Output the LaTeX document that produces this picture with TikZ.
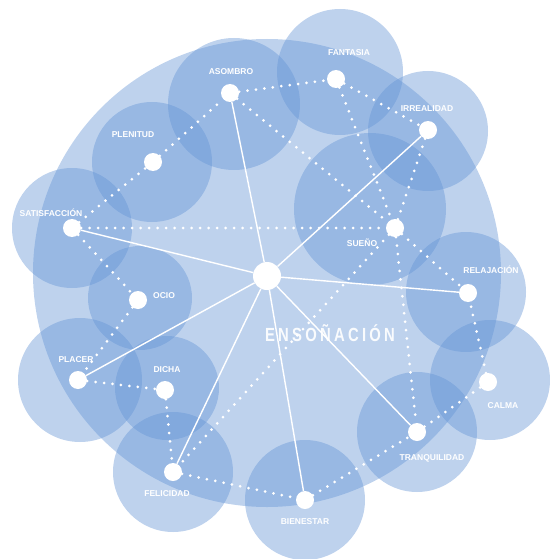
\documentclass[tikz,border=0pt]{standalone}
\usepackage{fontspec}
\setmainfont{Liberation Sans}
\newfontfamily\spacedsans[LetterSpace=22]{Liberation Sans}
\definecolor{bubble}{HTML}{6494D5}
\tikzset{
  zone/.style={fill=bubble, fill opacity=0.42},
  hub/.style={circle, fill=white, minimum size=28pt, inner sep=0pt},
  spot/.style={circle, fill=white, minimum size=18pt, inner sep=0pt},
  tag/.style={text=white, font=\bfseries\fontsize{8.5}{9}\selectfont, inner sep=0pt},
  title/.style={text=white, text opacity=0.92, inner sep=0pt,
    font=\spacedsans\bfseries\fontsize{19}{21}\selectfont, xscale=0.78},
  link/.style={white, line width=1.4pt},
  dotlink/.style={white, line width=3pt, line cap=round, dash pattern=on 0pt off 8.5pt},
}
\begin{document}
\begin{tikzpicture}[x=1pt,y=-1pt]
\useasboundingbox (0,0) rectangle (549,559);

% large background area
\fill[zone] (267,273) circle (234pt);

% one bubble per concept
\fill[zone] (234,104) circle (66pt);  % asombro
\fill[zone] (340,72)  circle (63pt);  % fantasia
\fill[zone] (428,131) circle (60pt);  % irrealidad
\fill[zone] (152,162) circle (60pt);  % plenitud
\fill[zone] (72,228)  circle (60pt);  % satisfaccion
\fill[zone] (370,209) circle (76pt);  % sueno
\fill[zone] (466,292) circle (60pt);  % relajacion
\fill[zone] (140,298) circle (52pt);  % ocio
\fill[zone] (80,380)  circle (62pt);  % placer
\fill[zone] (167,388) circle (52pt);  % dicha
\fill[zone] (490,380) circle (60pt);  % calma
\fill[zone] (417,432) circle (60pt);  % tranquilidad
\fill[zone] (173,472) circle (60pt);  % felicidad
\fill[zone] (305,500) circle (60pt);  % bienestar

% nodes
\node[hub]  (ens) at (267,276) {};
\node[spot] (aso) at (230,93)  {};
\node[spot] (fan) at (336,79)  {};
\node[spot] (irr) at (428,130) {};
\node[spot] (ple) at (153,162) {};
\node[spot] (sat) at (72,228)  {};
\node[spot] (sue) at (395,228) {};
\node[spot] (rel) at (468,293) {};
\node[spot] (oci) at (138,300) {};
\node[spot] (pla) at (78,380)  {};
\node[spot] (dic) at (165,390) {};
\node[spot] (cal) at (488,382) {};
\node[spot] (tra) at (417,432) {};
\node[spot] (fel) at (173,472) {};
\node[spot] (bie) at (305,500) {};

% solid links from the hub
\foreach \t in {aso,irr,sat,rel,pla,fel,bie,tra}
  \draw[link] (ens) -- (\t);

% dotted links
\draw[dotlink] (sat) -- (ple);
\draw[dotlink] (ple) -- (aso);
\draw[dotlink] (aso) -- (fan);
\draw[dotlink] (fan) -- (irr);
\draw[dotlink] (aso) -- (sue);
\draw[dotlink] (fan) -- (sue);
\draw[dotlink] (irr) -- (sue);
\draw[dotlink] (sat) -- (sue);
\draw[dotlink] (sue) -- (rel);
\draw[dotlink] (sue) -- (tra);
\draw[dotlink] (sue) -- (fel);
\draw[dotlink] (sat) -- (oci);
\draw[dotlink] (oci) -- (pla);
\draw[dotlink] (pla) -- (dic);
\draw[dotlink] (dic) -- (fel);
\draw[dotlink] (fel) -- (bie);
\draw[dotlink] (bie) -- (tra);
\draw[dotlink] (tra) -- (cal);
\draw[dotlink] (cal) -- (rel);

% labels
\node[tag] (laso) at (231,72)  {ASOMBRO};
\node[tag] (lfan) at (349,53)  {FANTASIA};
\node[tag] (lirr) at (427,109) {IRREALIDAD};
\node[tag] (lple) at (133,135) {PLENITUD};
\node[tag] (lsat) at (51,213)  {SATISFACCIÓN};
\node[tag] (lsue) at (362,243) {SUEÑO};
\node[tag] (lrel) at (491,270) {RELAJACIÓN};
\node[tag] (loci) at (164,296) {OCIO};
\node[tag] (lpla) at (76,360)  {PLACER};
\node[tag] (ldic) at (167,370) {DICHA};
\node[tag] (lcal) at (503,406) {CALMA};
\node[tag] (ltra) at (432,458) {TRANQUILIDAD};
\node[tag] (lfel) at (167,494) {FELICIDAD};
\node[tag] (lbie) at (305,522) {BIENESTAR};
\node[title] (lens) at (330,333) {ENSOÑACIÓN};
\end{tikzpicture}
\end{document}
